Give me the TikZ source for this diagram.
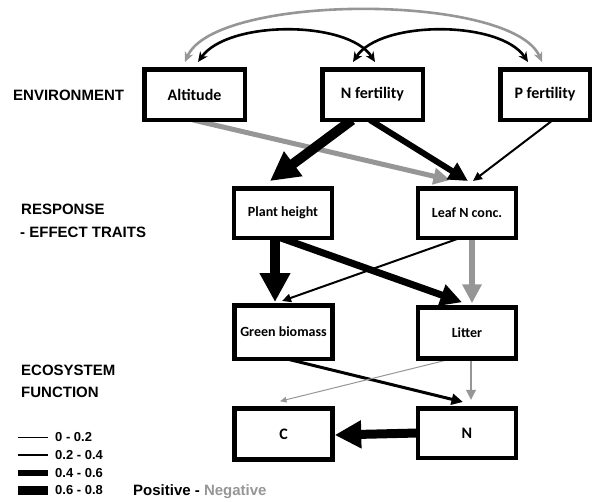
\documentclass[tikz,border=0pt]{standalone}
\usepackage{fontspec}
\setmainfont{Liberation Sans}
\newfontfamily\calfont{Carlito}
\usetikzlibrary{arrows.meta,calc}
\pgfdeclarelayer{background}
\pgfsetlayers{background,main}
\definecolor{negc}{RGB}{150,150,150}
\begin{document}
\begin{tikzpicture}[x=1pt,y=-1pt,
  box/.style={draw,fill=white,line width=4.5pt,minimum width=98pt,minimum height=51pt,
    inner sep=0pt,font=\calfont\bfseries\fontsize{14}{16}\selectfont},
  bigtext/.style={font=\calfont\bfseries\fontsize{16}{18}\selectfont},
  link/.style={line width=#1,-{Triangle[length=4pt 2.5,width=3pt 2.6]}},
  neg/.style={draw=negc},
  corr/.style={line width=2.6pt,{Stealth[length=10pt,width=9pt]}-{Stealth[length=10pt,width=9pt]}},
  side/.style={anchor=base west,inner sep=0pt,font=\bfseries\fontsize{15}{17}\selectfont},
  legtext/.style={anchor=base west,inner sep=0pt,font=\bfseries\fontsize{13}{15}\selectfont},
  legline/.style={line width=#1}]
\useasboundingbox (0,0) rectangle (597,501);

% environment
\node[box,bigtext,minimum width=100.5pt,minimum height=50.5pt] (alt) at (194.5,94.5) {Altitude};
\node[box,bigtext,minimum width=100.5pt,minimum height=50.5pt] (nf) at (372.5,94.5) {N fertility};
\node[box,bigtext,minimum width=89.5pt,minimum height=50.5pt] (pf) at (545,94.5) {P fertility};
% traits
\node[box,minimum height=49.5pt] (ph) at (283,213) {Plant height};
\node[box,minimum height=49.5pt] (ln) at (467,213) {Leaf N conc.};
% biomass and litter
\node[box,minimum height=53.5pt] (gb) at (283.5,332) {Green biomass};
\node[box] (lit) at (467,333) {Litter};
% ecosystem function
\node[box,bigtext] (c) at (283.5,434) {C};
\node[box,bigtext,minimum height=49.5pt] (n) at (467,433) {N};

\begin{pgfonlayer}{background}
% correlations among environmental drivers
\draw[corr,negc] ($(alt.north)+(-9.5pt,5pt)$) .. controls (215,-7) and (512,-7) .. ($(pf.north)+(-3pt,5pt)$);
\draw[corr] ($(alt.north)+(3.5pt,5pt)$) .. controls (228,20) and (348,20) .. ($(nf.north)+(2.5pt,5pt)$);
\draw[corr] ($(nf.north)+(-19.5pt,5pt)$) .. controls (380,20) and (500,20) .. ($(pf.north)+(-17pt,5pt)$);

% environment -> traits
\draw[link=5pt,neg] ($(alt.south)+(-1.5pt,2pt)$) -- ($(ln.north)+(-17pt,6pt)$);
\draw[link=10pt] ($(nf.south)+(-20.5pt,2pt)$) -- ($(ph.north)+(-13pt,5pt)$);
\draw[link=6pt] ($(nf.south)+(-2.5pt,2pt)$) -- ($(ln.north)+(1pt,5pt)$);
\draw[link=2pt] ($(pf.south)+(8pt,2pt)$) -- ($(ln.north)+(6pt,5pt)$);

% traits -> biomass and litter
\draw[link=10pt] ($(ph.south)+(-8pt,2pt)$) -- ($(gb.north)+(-8.5pt,1pt)$);
\draw[link=7pt] ($(ph.south)+(-2pt,2pt)$) -- ($(lit.north)+(-5pt,3pt)$);
\draw[link=2pt] ($(ln.south)+(-7pt,2pt)$) -- ($(gb.north)+(-1.5pt,2pt)$);
\draw[link=6pt,neg] ($(ln.south)+(5pt,2pt)$) -- ($(lit.north)+(5pt,2pt)$);

% biomass and litter -> C and N
\draw[link=3pt] ($(gb.south)+(3.5pt,2pt)$) -- ($(n.north)+(-4pt,4pt)$);
\draw[link=1pt,neg] ($(lit.south)+(-15pt,2pt)$) -- ($(c.north)+(-3.5pt,5pt)$);
\draw[link=2.5pt,neg] ($(lit.south)+(4pt,2pt)$) -- ($(n.north)+(4pt,6pt)$);
\draw[link=9pt] ($(n.west)+(2pt,0pt)$) -- ($(c.east)+(0pt,-1pt)$);
\end{pgfonlayer}

% level labels
\node[side] (lenv) at (13,100.5) {ENVIRONMENT};
\node[side] (lresp) at (21,214.5) {RESPONSE};
\node[side] (leff) at (20,237.5) {- EFFECT TRAITS};
\node[side] (leco) at (21,375.5) {ECOSYSTEM};
\node[side] (lfun) at (21,397.5) {FUNCTION};

% legend of path strengths
\draw[legline=1pt] (18,437) -- (48,437);
\draw[legline=2.5pt] (18,455) -- (48,455);
\draw[legline=6pt] (18,473) -- (48,473);
\draw[legline=9pt] (18,490) -- (48,490);
\node[legtext] (l1) at (55,441.7) {0 - 0.2};
\node[legtext] (l2) at (55,459.7) {0.2 - 0.4};
\node[legtext] (l3) at (55,477.7) {0.4 - 0.6};
\node[legtext] (l4) at (55,494.7) {0.6 - 0.8};
\node[side] (sign) at (133,495.5) {Positive - \textcolor{negc}{Negative}};
\end{tikzpicture}
\end{document}
